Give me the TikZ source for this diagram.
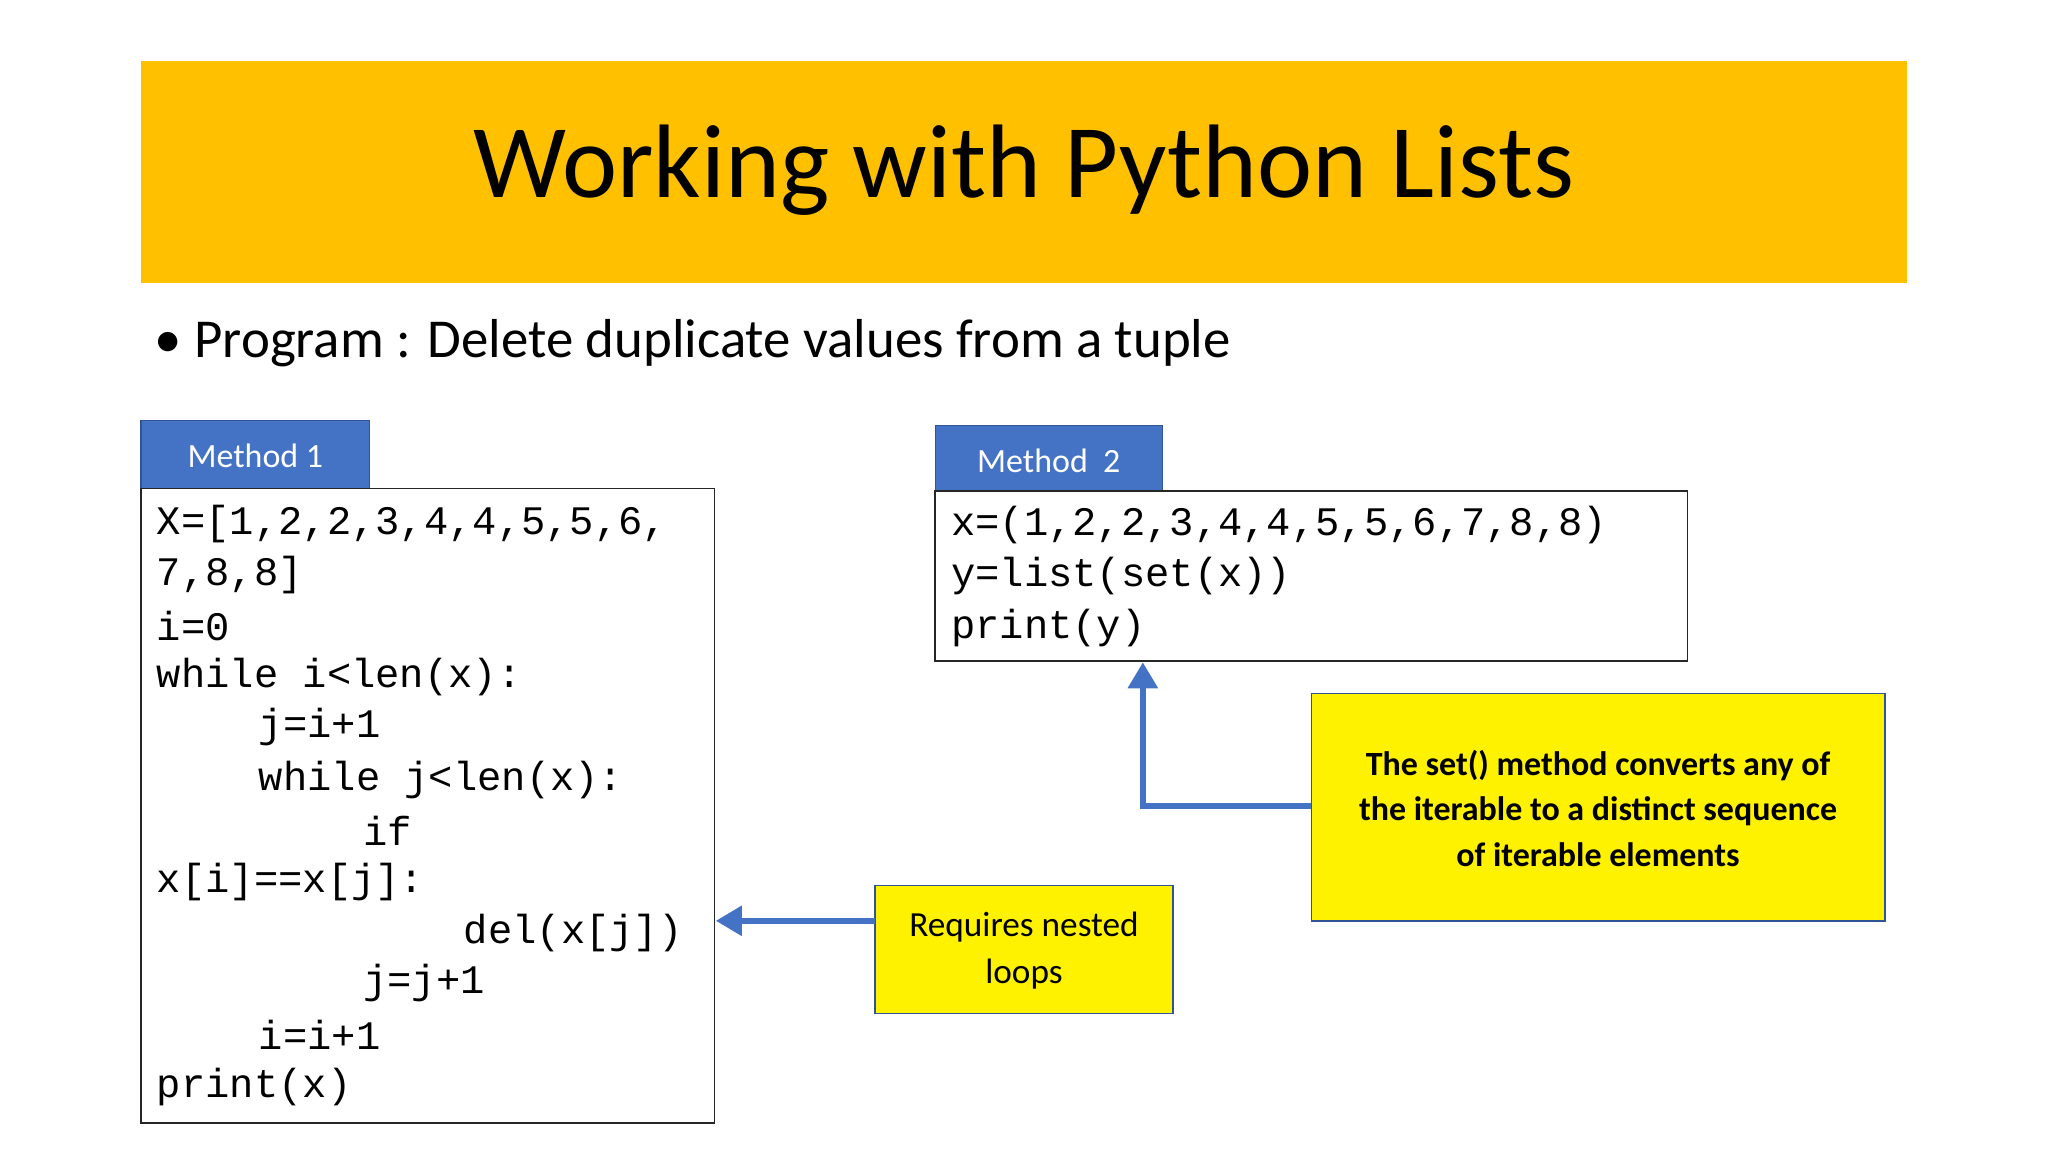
\documentclass[tikz,border=0pt]{standalone}
\usepackage{fontspec}
\setmainfont{Carlito}
\newfontfamily\codefont{Liberation Mono}
\usetikzlibrary{arrows.meta}
\definecolor{titlebg}{HTML}{FFC000}
\definecolor{tabblue}{HTML}{4472C4}
\definecolor{noteedge}{HTML}{2F5597}
\tikzset{
  codebox/.style={draw=black!85, line width=1.2pt},
  tab/.style={fill=tabblue, draw=noteedge, line width=1pt},
  tabtext/.style={text=white, font=\fontsize{26}{30}\selectfont},
  note/.style={fill=yellow, draw=noteedge, line width=1.2pt},
  code/.style={anchor=west, inner sep=0pt, font=\codefont\fontsize{31}{36}\selectfont},
  conn/.style={draw=tabblue, line width=5pt, -{Triangle[length=20pt,width=22pt]}},
}
\begin{document}
\begin{tikzpicture}[x=1pt,y=-1pt]
\useasboundingbox (0,0) rectangle (1568,882);
\fill[white] (0,0) rectangle (1568,882);
% title
\fill[titlebg] (108,47) rectangle (1460,217);
\node[font=\fontsize{80}{90}\selectfont] (title) at (784,130) {Working with Python Lists};
\node[anchor=west, font=\fontsize{42}{48}\selectfont] (bullet) at (115,263) {\textbullet\ Program : Delete duplicate values from a tuple};
% method 1
\draw[tab] (108,322) rectangle (283,374);
\node[tabtext] (m1) at (195.5,349) {Method 1};
\draw[codebox] (108,374) rectangle (547,860);
\foreach \x/\y/\t [count=\i] in {120/401/{X=[1,2,2,3,4,4,5,5,6,}, 120/440/{7,8,8]}, 120/479/{i=0},
  120/518/{while i<len(x):}, 198/557/{j=i+1}, 198/597/{while j<len(x):}, 278/636/{if},
  120/675/{x[i]==x[j]:}, 355/714/{del(x[j])}, 278/753/{j=j+1}, 198/792/{i=i+1}, 120/832/{print(x)}}
  \node[code] (c1-\i) at (\x,\y) {\t};
% method 2
\draw[tab] (716,326) rectangle (890,376);
\node[tabtext] (m2) at (803,353) {Method\ \ 2};
\draw[codebox] (716,376) rectangle (1292,506);
\foreach \y/\t [count=\i] in {402/{x=(1,2,2,3,4,4,5,5,6,7,8,8)}, 441/{y=list(set(x))}, 481/{print(y)}}
  \node[code] (c2-\i) at (728,\y) {\t};
% notes
\draw[note] (670,678) rectangle (898,776);
\node[align=center, font=\fontsize{27}{36}\selectfont] (n1) at (784,728) {Requires nested\\loops};
\draw[note] (1004,531) rectangle (1443,705);
\node[align=center, font=\bfseries\fontsize{26}{35}\selectfont] (n2) at (1223.5,619) {The set() method converts any of\\the iterable to a distinct sequence\\of iterable elements};
\coordinate (a1s) at (670,705);
\coordinate (a1e) at (548,705);
\draw[conn] (a1s) -- (a1e);
\coordinate (a2s) at (1004,617);
\coordinate (a2e) at (875,507);
\draw[conn] (a2s) -| (a2e);
\end{tikzpicture}
\end{document}
